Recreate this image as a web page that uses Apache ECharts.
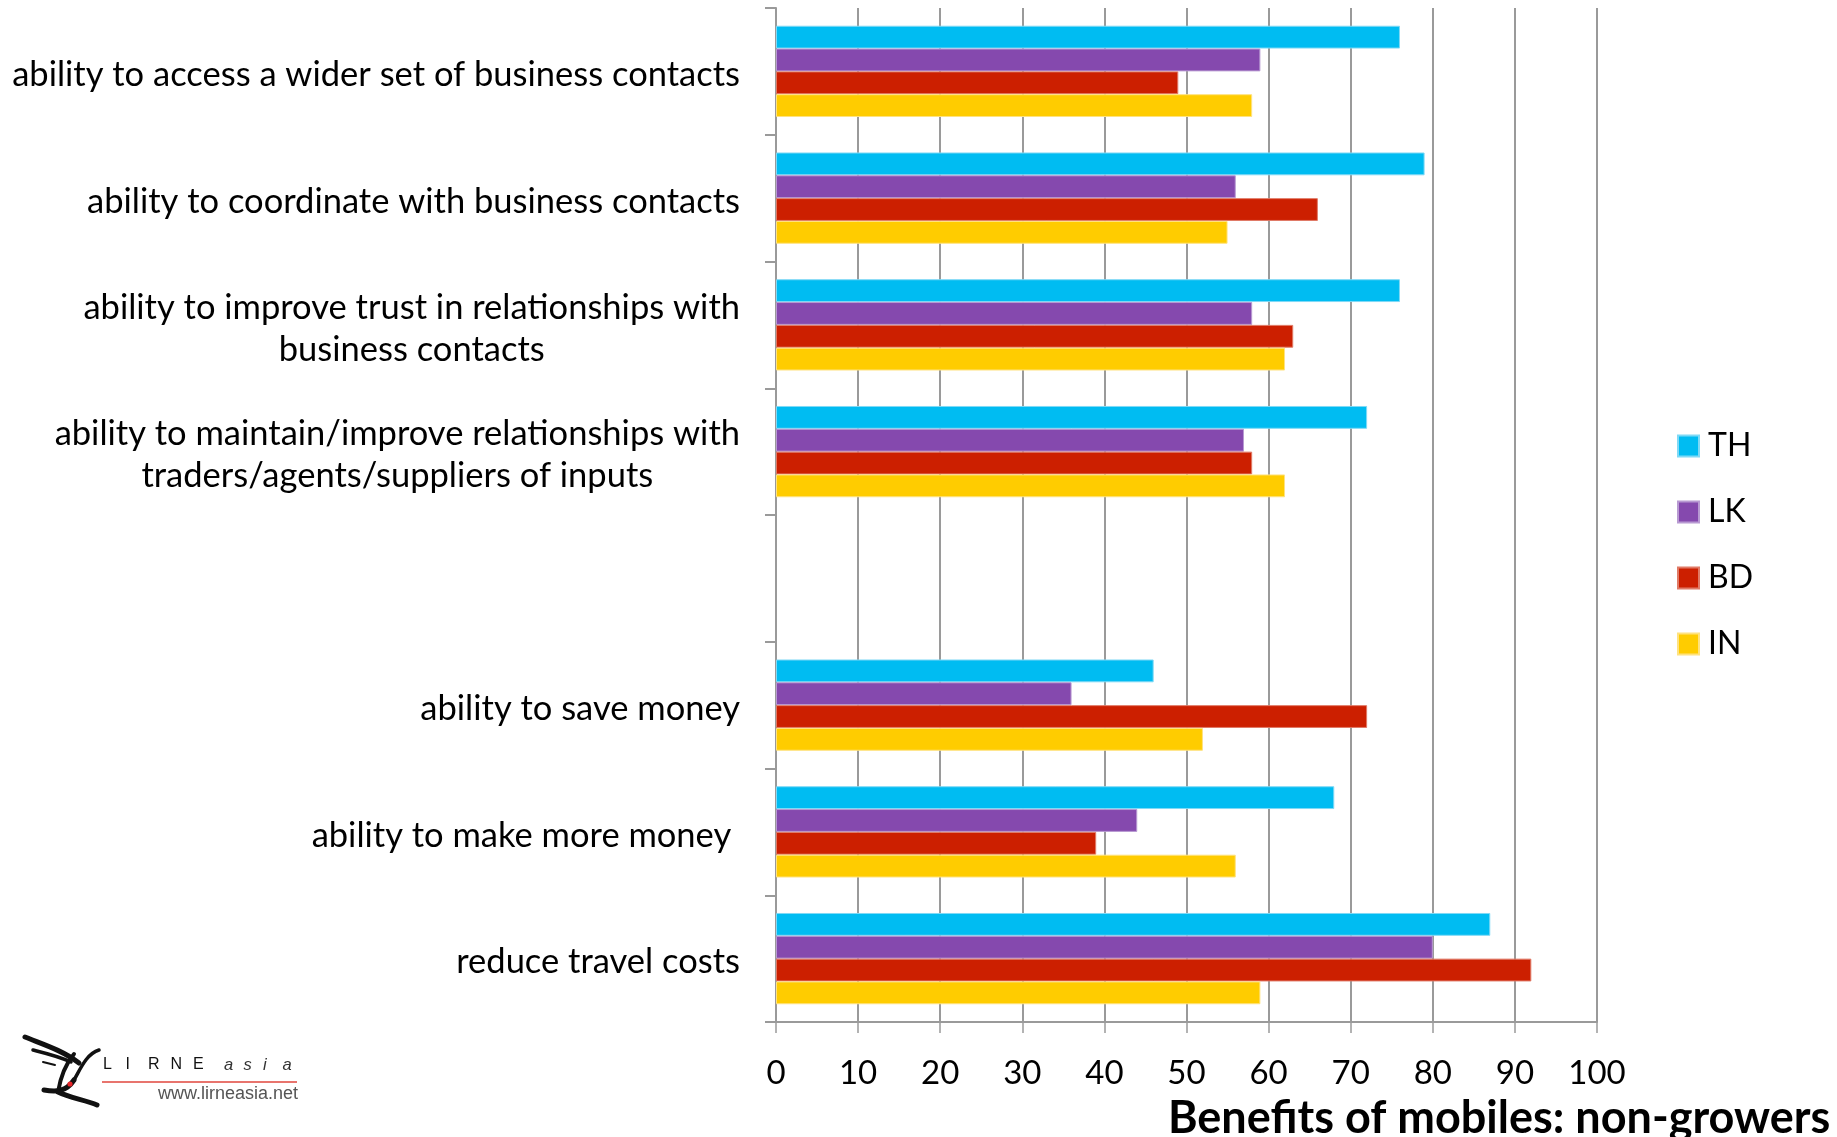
<!DOCTYPE html>
<html>
<head>
<meta charset="utf-8">
<script src="https://cdn.jsdelivr.net/npm/echarts@6/dist/echarts.min.js"></script>
<style>
  html, body { margin: 0; padding: 0; background: #ffffff; }
  #chart { width: 1837px; height: 1137px; }
</style>
</head>
<body>
<div id="chart"></div>
<script>
// Benefit categories, top to bottom (one empty slot separates the two blocks)
const categories = [
  'ability to access a wider set of business contacts',
  'ability to coordinate with business contacts',
  'ability to improve trust in relationships with\nbusiness contacts',
  'ability to maintain/improve relationships with\ntraders/agents/suppliers of inputs',
  '',
  'ability to save money',
  'ability to make more money ',
  'reduce travel costs'
];

// Country series (percent of respondents)
const countryNames = ['TH', 'LK', 'BD', 'IN'];
const thValues = [76, 79, 76, 72, null, 46, 68, 87];
const lkValues = [59, 56, 58, 57, null, 36, 44, 80];
const bdValues = [49, 66, 63, 58, null, 72, 39, 92];
const inValues = [58, 55, 62, 62, null, 52, 56, 59];

// Value axis ticks
const axisMin = 0;
const axisMax = 100;
const axisStep = 10;

const chartTitle = 'Benefits of mobiles: non-growers';

const FONT = 'Lato';
const colors = ['#00BCF2', '#8549AE', '#CC1F00', '#FFCC00'];
const edgeColors = ['#7FD9F6', '#B89AD2', '#E07A66', '#FFE27F'];
const valueSets = [thValues, lkValues, bdValues, inValues];

const chart = echarts.init(document.getElementById('chart'), null, { renderer: 'canvas' });

const series = countryNames.map((name, i) => ({
  name: name,
  type: 'bar',
  data: valueSets[i],
  barGap: '0%',
  barCategoryGap: '28%',
  itemStyle: { color: colors[i], borderColor: edgeColors[i], borderWidth: 1 },
  emphasis: { disabled: true },
  animation: false
}));

// Logo in the lower-left corner
const logoLetters = 'LIRNE'.split('').map((ch, i) => ({
  type: 'text', left: 103 + i * 22.5, top: 1057,
  style: { text: ch, fontFamily: 'Liberation Sans', fontSize: 16, fill: '#111' }
}));
const logoItalic = 'asia'.split('').map((ch, i) => ({
  type: 'text', left: 224 + i * 19.5, top: 1057,
  style: { text: ch, fontFamily: 'Liberation Sans', fontStyle: 'italic', fontSize: 16.5, fill: '#333' }
}));

const ink = (shape, w) => ({
  type: 'bezierCurve', shape: shape,
  style: { stroke: '#111', lineWidth: w, fill: null, lineCap: 'round' }
});

const graphic = [
  // brush-stroke figure
  ink({ x1: 25, y1: 1037, cpx1: 42, cpy1: 1044, cpx2: 62, cpy2: 1050, x2: 79, y2: 1063 }, 5),
  ink({ x1: 33, y1: 1050, cpx1: 45, cpy1: 1053, cpx2: 58, cpy2: 1056, x2: 71, y2: 1062 }, 3.5),
  ink({ x1: 43, y1: 1062, cpx1: 47, cpy1: 1063, cpx2: 51, cpy2: 1064, x2: 55, y2: 1065 }, 2),
  ink({ x1: 99, y1: 1050, cpx1: 86, cpy1: 1054, cpx2: 80, cpy2: 1070, x2: 74, y2: 1080 }, 3.5),
  ink({ x1: 74, y1: 1080, cpx1: 66, cpy1: 1092, cpx2: 56, cpy2: 1092, x2: 44, y2: 1090 }, 5),
  ink({ x1: 74, y1: 1054, cpx1: 64, cpy1: 1066, cpx2: 60, cpy2: 1080, x2: 58, y2: 1092 }, 4),
  ink({ x1: 58, y1: 1092, cpx1: 70, cpy1: 1098, cpx2: 86, cpy2: 1100, x2: 97, y2: 1105 }, 5),
  { type: 'circle', shape: { cx: 70, cy: 1084, r: 2.6 }, style: { fill: '#e8262a' } },
  ...logoLetters,
  ...logoItalic,
  { type: 'line', shape: { x1: 102, y1: 1082, x2: 297, y2: 1082 }, style: { stroke: '#e0463c', lineWidth: 1.5 } },
  { type: 'text', left: 158, top: 1085,
    style: { text: 'www.lirneasia.net', fontFamily: 'Liberation Sans', fontSize: 18, fill: '#555' } }
];

const option = {
  backgroundColor: '#ffffff',
  animation: false,
  title: {
    text: chartTitle,
    left: 1168,
    top: 1096,
    padding: 0,
    textStyle: { fontFamily: FONT, fontWeight: 'bold', fontSize: 45, color: '#000' }
  },
  legend: {
    orient: 'vertical',
    left: 1672,
    top: 421,
    itemWidth: 21,
    itemHeight: 21,
    itemGap: 26,
    icon: 'rect',
    selectedMode: false,
    data: countryNames,
    textStyle: { fontFamily: FONT, fontSize: 32, color: '#000', lineHeight: 40, padding: [0, 0, 0, 4] }
  },
  grid: { left: 776, right: 240, top: 8, bottom: 115, containLabel: false },
  xAxis: {
    type: 'value',
    min: axisMin,
    max: axisMax,
    interval: axisStep,
    axisLine: { show: true, lineStyle: { color: '#9a9a9a', width: 2 } },
    axisTick: { show: true, length: 11, lineStyle: { color: '#9a9a9a', width: 1.5 } },
    axisLabel: { margin: 35, fontFamily: FONT, fontSize: 33, color: '#000' },
    splitLine: { show: true, lineStyle: { color: '#9a9a9a', width: 2 } }
  },
  yAxis: {
    type: 'category',
    data: categories,
    inverse: true,
    axisLine: { show: true, lineStyle: { color: '#9a9a9a', width: 2 } },
    axisTick: { show: true, length: 11, interval: 0, lineStyle: { color: '#9a9a9a', width: 2 } },
    axisLabel: {
      interval: 0,
      margin: 36,
      padding: [7, 0, 0, 0],
      formatter: (v) => v ? v.split('\n').map(l => '{c|' + l + '}').join('\n') : '',
      rich: { c: { align: 'center', fontFamily: FONT, fontSize: 34.5, color: '#000', lineHeight: 42 } }
    },
    splitLine: { show: false }
  },
  series: series,
  graphic: graphic
};

chart.setOption(option);
</script>
</body>
</html>
